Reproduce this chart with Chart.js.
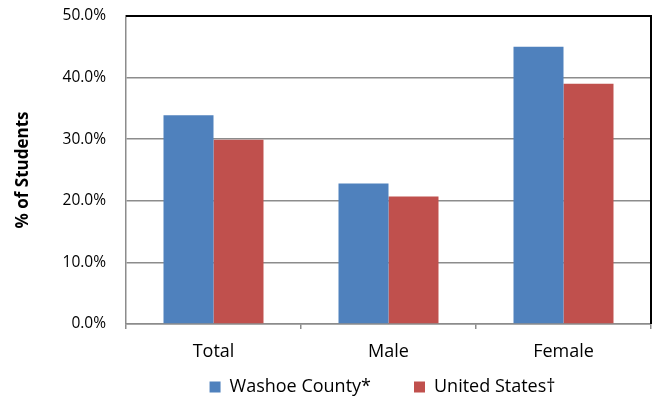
<!DOCTYPE html>
<html>
<head>
<meta charset="utf-8">
<script src="https://cdn.jsdelivr.net/npm/chart.js@4/dist/chart.umd.min.js"></script>
<style>
  html, body { margin: 0; padding: 0; background: #fff; }
  #wrap { width: 657px; height: 398px; position: relative; }
</style>
</head>
<body>
<div id="wrap"><canvas id="c"></canvas></div>
<script>
const categories = ["Total", "Male", "Female"];
const washoeValues = [33.9, 22.8, 45.0];
const usValues = [29.9, 20.7, 39.0];
const seriesNames = ["Washoe County*", "United States\u2020"];
const yTicks = [0, 10, 20, 30, 40, 50];

const FONT = "'Open Sans', 'Liberation Sans', sans-serif";

// Black frame on top/right of the plot area, and legend placement.
const frameAndLegend = {
  id: 'frameAndLegend',
  afterLayout(chart) {
    const lg = chart.legend;
    if (lg) {
      lg.top = 335;
      lg.bottom = 398;
      lg.left -= 6;
      lg.right -= 6;
    }
  },
  afterDraw(chart) {
    const a = chart.chartArea, ctx = chart.ctx;
    ctx.save();
    ctx.strokeStyle = '#000';
    ctx.lineWidth = 2;
    ctx.beginPath();
    ctx.moveTo(a.left, a.top);
    ctx.lineTo(a.right, a.top);
    ctx.lineTo(a.right, a.bottom);
    ctx.stroke();
    ctx.restore();
  }
};

new Chart(document.getElementById('c'), {
  type: 'bar',
  data: {
    labels: categories,
    datasets: [
      { label: seriesNames[0], data: washoeValues, backgroundColor: '#4F81BD',
        categoryPercentage: 0.5714, barPercentage: 1.0 },
      { label: seriesNames[1], data: usValues, backgroundColor: '#C0504D',
        categoryPercentage: 0.5714, barPercentage: 1.0 }
    ]
  },
  plugins: [frameAndLegend],
  options: {
    responsive: true,
    maintainAspectRatio: false,
    animation: false,
    layout: { padding: { top: 16, right: 6, bottom: 0, left: 0 } },
    plugins: {
      legend: {
        position: 'bottom',
        fullSize: false,
        maxHeight: 34,
        labels: {
          boxWidth: 11, boxHeight: 11, padding: 43,
          color: '#000',
          font: { family: FONT, size: 18 }
        }
      },
      tooltip: { enabled: false },
      title: { display: false }
    },
    scales: {
      x: {
        afterFit(s) { s.height = 40; },
        grid: { display: true, drawOnChartArea: false, drawTicks: true, tickLength: 5,
                color: '#8c8c8c', lineWidth: 1.5, offset: true },
        border: { display: true, color: '#8c8c8c', width: 1.5 },
        ticks: { color: '#000', padding: 12, font: { family: FONT, size: 18 } }
      },
      y: {
        min: 0, max: 50,
        afterFit(s) { s.width = 126; s.paddingTop = 0; s.paddingBottom = 0; },
        afterBuildTicks(s) { s.ticks = yTicks.map(v => ({ value: v })); },
        grid: { drawTicks: false, lineWidth: 1.5,
                color: ctx => (ctx.tick && ctx.tick.value === 50) ? '#000' : '#8c8c8c' },
        border: { display: true, color: '#8c8c8c', width: 1.5 },
        ticks: { color: '#000', padding: 20, font: { family: FONT, size: 15.5 },
                 callback: v => Number(v).toFixed(1) + '%' },
        title: { display: true, text: '% of Students', color: '#000',
                 padding: { top: 13, bottom: 0 },
                 font: { family: FONT, size: 17, weight: 'bold' } }
      }
    }
  }
});
</script>
</body>
</html>
